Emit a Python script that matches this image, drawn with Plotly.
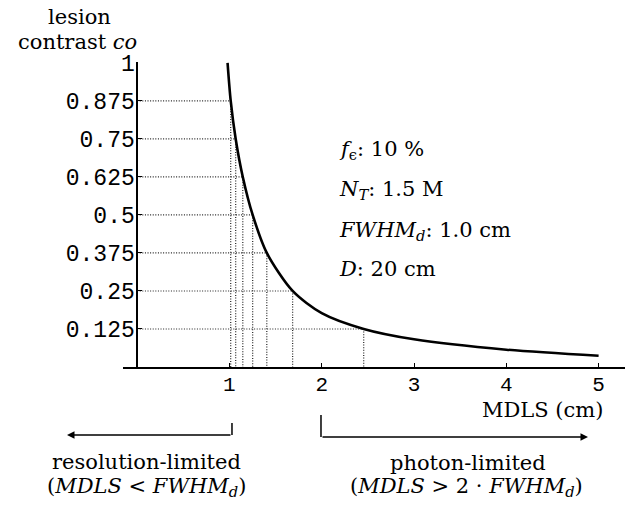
import plotly.graph_objects as go

# Curve: MDLS (cm) vs lesion contrast co
mdls = [0.98, 1.014, 1.068, 1.145, 1.252, 1.405, 1.685, 2.0, 2.455, 3.0, 4.0, 5.0]
contrast = [1.0, 0.875, 0.75, 0.625, 0.5, 0.375, 0.25, 0.177, 0.125, 0.091, 0.057, 0.037]

# Dotted guide levels (contrast level and where curve crosses it)
level_co = [0.875, 0.75, 0.625, 0.5, 0.375, 0.25, 0.125]
level_mdls = [1.014, 1.068, 1.145, 1.252, 1.405, 1.685, 2.455]

y_tickvals = [0.125, 0.25, 0.375, 0.5, 0.625, 0.75, 0.875, 1.0]
y_ticktext = ["0.125", "0.25", "0.375", "0.5", "0.625", "0.75", "0.875", "1"]
x_tickvals = [1, 2, 3, 4, 5]
x_ticktext = ["1", "2", "3", "4", "5"]

params = ["<i>f</i><sub>ϵ</sub>: 10 %",
          "<i>N<sub>T</sub></i>: 1.5 M",
          "<i>FWHM<sub>d</sub></i>: 1.0 cm",
          "<i>D</i>: 20 cm"]

SERIF = "DejaVu Serif"
MONO = "Liberation Mono"

fig = go.Figure()

dot = dict(color="#222", width=1.2, dash="1px,1.6px")
for c, m in zip(level_co, level_mdls):
    fig.add_trace(go.Scatter(x=[0, m], y=[c, c], mode="lines", line=dot,
                             hoverinfo="skip", showlegend=False))
    fig.add_trace(go.Scatter(x=[m, m], y=[c, 0], mode="lines", line=dot,
                             hoverinfo="skip", showlegend=False))

fig.add_trace(go.Scatter(x=mdls, y=contrast, mode="lines",
                         line=dict(color="black", width=2.6, shape="spline", smoothing=0.8),
                         showlegend=False))

ann = []
def txt(s, x, y, xa="center", size=21):
    ann.append(dict(text=s, x=x, y=y, xref="paper", yref="paper", xanchor=xa,
                    yanchor="middle", showarrow=False,
                    font=dict(family=SERIF, size=size, color="black")))

txt("lesion", -0.0857, 1.1475)
txt("contrast <i>co</i>", -0.0916, 1.0656)
for s, yy in zip(params, [0.7115, 0.5803, 0.4459, 0.3213]):
    txt(s, 0.4263, yy, xa="left")
txt("MDLS (cm)", 0.9602, -0.141, xa="right")
txt("resolution-limited", 0.0478, -0.3115)
txt("(<i>MDLS</i> &lt; <i>FWHM<sub>d</sub></i>)", 0.0478, -0.3934)
txt("photon-limited", 0.6873, -0.3148)
txt("(<i>MDLS</i> &gt; 2 · <i>FWHM<sub>d</sub></i>)", 0.6833, -0.3934)

# arrows
ann.append(dict(text="", x=-0.1116, y=-0.2230, xref="paper", yref="paper",
                ax=165, ay=0, axref="pixel", ayref="pixel", showarrow=True,
                arrowhead=2, arrowsize=1, arrowwidth=1.5, arrowcolor="black"))
ann.append(dict(text="", x=0.9263, y=-0.2295, xref="paper", yref="paper",
                ax=-267, ay=0, axref="pixel", ayref="pixel", showarrow=True,
                arrowhead=2, arrowsize=1, arrowwidth=1.5, arrowcolor="black"))

shapes = [
    dict(type="line", xref="paper", yref="paper", x0=0.2171, x1=0.2171, y0=-0.1836, y1=-0.2230,
         line=dict(color="black", width=1.5)),
    dict(type="line", xref="paper", yref="paper", x0=0.3944, x1=0.3944, y0=-0.1574, y1=-0.2295,
         line=dict(color="black", width=1.5)),
]

fig.update_layout(
    width=630, height=507,
    margin=dict(l=123, r=5, t=62, b=140),
    paper_bgcolor="white", plot_bgcolor="white",
    annotations=ann, shapes=shapes,
    xaxis=dict(range=[-0.153, 5.286], showgrid=False, zeroline=False,
               showline=True, linecolor="black", linewidth=1.5,
               tickvals=x_tickvals, ticktext=x_ticktext, ticks="inside",
               ticklen=4, tickcolor="black", ticklabelstandoff=-3,
               tickfont=dict(family=MONO, size=21, color="black")),
    yaxis=dict(range=[0, 1.003], showgrid=False, zeroline=False,
               showline=True, linecolor="black", linewidth=1.5,
               anchor="free", position=0.0281, side="left",
               tickvals=y_tickvals, ticktext=y_ticktext, ticks="inside",
               ticklen=4, tickcolor="black", ticklabelstandoff=-3,
               tickfont=dict(family=MONO, size=23, color="black")),
)

fig.write_html("out.html", config={"displayModeBar": False},
               post_script="document.body.style.margin='0px';")
